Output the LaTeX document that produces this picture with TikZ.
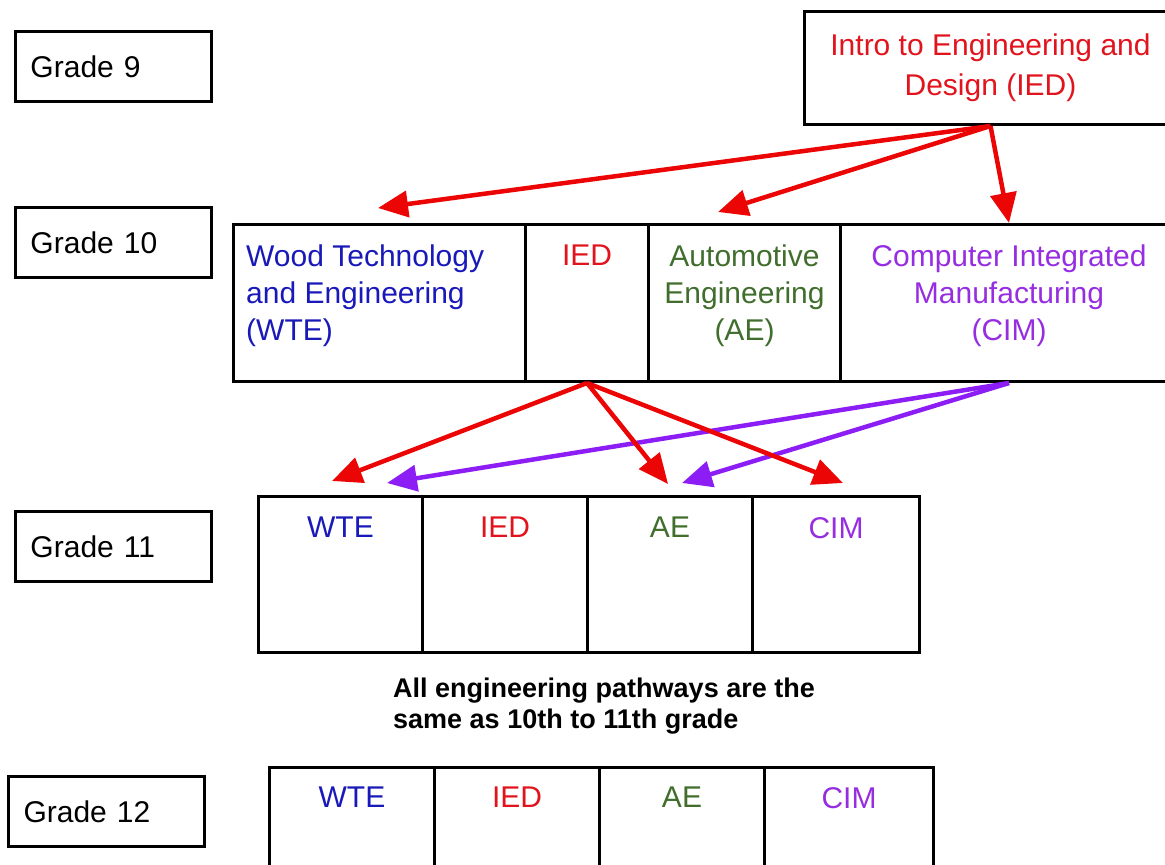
\documentclass[tikz,border=0pt]{standalone}
\usepackage{fontspec}
\setmainfont{Liberation Sans}
\usetikzlibrary{arrows.meta}

\definecolor{iedred}{RGB}{225,20,30}
\definecolor{wteblue}{RGB}{25,25,185}
\definecolor{aegreen}{RGB}{65,110,45}
\definecolor{cimpurple}{RGB}{150,45,225}
\definecolor{arrred}{RGB}{235,5,5}
\definecolor{arrpurple}{RGB}{140,30,245}

\tikzset{
  gradebox/.style={draw, line width=3pt, anchor=north west, inner sep=15pt,
    minimum height=70pt, text width=166pt, align=left,
    font=\fontsize{30}{36}\selectfont},
  cell/.style={draw, line width=3pt, anchor=north west, inner sep=0pt},
  celltext/.style={anchor=north, inner sep=0pt, align=center,
    font=\fontsize{30}{37}\selectfont},
  redarrow/.style={draw=arrred, line width=4.5pt, -{Triangle[length=30pt,width=26pt]}},
  purplearrow/.style={draw=arrpurple, line width=4.5pt, -{Triangle[length=30pt,width=26pt]}}
}

\begin{document}
\begin{tikzpicture}[x=1pt,y=-1pt]
  \clip (0,0) rectangle (1165,865);

  % grade labels
  \node[gradebox] (g9)  at (14,30)  {Grade 9};
  \node[gradebox] (g10) at (14,206) {Grade 10};
  \node[gradebox] (g11) at (14,510) {Grade 11};
  \node[gradebox] (g12) at (7,775)  {Grade 12};

  % grade 9
  \node[draw, line width=3pt, anchor=north west, minimum width=372pt, minimum height=113pt,
    align=center, text=iedred, font=\fontsize{30}{40}\selectfont] (ied9) at (803,10)
    {Intro to Engineering and\\Design (IED)};

  % grade 10
  \node[cell, minimum width=292pt, minimum height=157pt] (wte10) at (232,223) {};
  \node[cell, minimum width=123pt, minimum height=157pt] (ied10) at (524,223) {};
  \node[cell, minimum width=192pt, minimum height=157pt] (ae10)  at (647,223) {};
  \node[cell, minimum width=337pt, minimum height=157pt] (cim10) at (839,223) {};
  \node[celltext, anchor=north west, align=left, text=wteblue] (wte10t)
    at ([xshift=14pt,yshift=-22pt]wte10.north west) {Wood Technology\\and Engineering\\(WTE)};
  \node[celltext, text=iedred]    (ied10t) at ([yshift=-22pt]ied10.north) {IED};
  \node[celltext, text=aegreen]   (ae10t)  at ([yshift=-22pt]ae10.north) {Automotive\\Engineering\\(AE)};
  \node[celltext, text=cimpurple] (cim10t) at ([yshift=-22pt]cim10.north) {Computer Integrated\\Manufacturing\\(CIM)};

  % grade 11
  \node[cell, minimum width=164pt, minimum height=156pt] (wte11) at (257,495) {};
  \node[cell, minimum width=165pt, minimum height=156pt] (ied11) at (421,495) {};
  \node[cell, minimum width=165pt, minimum height=156pt] (ae11)  at (586,495) {};
  \node[cell, minimum width=167pt, minimum height=156pt] (cim11) at (751,495) {};
  \node[celltext, text=wteblue]   (wte11t) at ([yshift=-22pt]wte11.north) {WTE};
  \node[celltext, text=iedred]    (ied11t) at ([yshift=-22pt]ied11.north) {IED};
  \node[celltext, text=aegreen]   (ae11t)  at ([yshift=-22pt]ae11.north) {AE};
  \node[celltext, text=cimpurple] (cim11t) at ([yshift=-22pt]cim11.north) {CIM};

  \node[anchor=north west, inner sep=0pt, align=left,
    font=\fontsize{27}{31}\selectfont\bfseries] (note) at (393,678)
    {All engineering pathways are the\\same as 10th to 11th grade};

  % grade 12
  \node[cell, minimum width=165pt, minimum height=156pt] (wte12) at (268,766) {};
  \node[cell, minimum width=165pt, minimum height=156pt] (ied12) at (433,766) {};
  \node[cell, minimum width=165pt, minimum height=156pt] (ae12)  at (598,766) {};
  \node[cell, minimum width=169pt, minimum height=156pt] (cim12) at (763,766) {};
  \node[celltext, text=wteblue]   (wte12t) at ([yshift=-21pt]wte12.north) {WTE};
  \node[celltext, text=iedred]    (ied12t) at ([yshift=-21pt]ied12.north) {IED};
  \node[celltext, text=aegreen]   (ae12t)  at ([yshift=-21pt]ae12.north) {AE};
  \node[celltext, text=cimpurple] (cim12t) at ([yshift=-21pt]cim12.north) {CIM};

  % arrow ends
  \coordinate (toWte10) at (378,208);
  \coordinate (toAe10)  at (718,212);
  \coordinate (redWte11) at (332,481);
  \coordinate (redAe11)  at (668,484);
  \coordinate (redCim11) at (843,483);
  \coordinate (purWte11) at (387,483);
  \coordinate (purAe11)  at (682,483);

  % arrows
  \draw[redarrow] (ied9.south) -- (toWte10);
  \draw[redarrow] (ied9.south) -- (toAe10);
  \draw[redarrow] (ied9.south) -- (cim10.north);

  \draw[purplearrow] (cim10.south) -- (purWte11);
  \draw[purplearrow] (cim10.south) -- (purAe11);
  \draw[redarrow] (ied10.south) -- (redWte11);
  \draw[redarrow] (ied10.south) -- (redAe11);
  \draw[redarrow] (ied10.south) -- (redCim11);
\end{tikzpicture}
\end{document}
